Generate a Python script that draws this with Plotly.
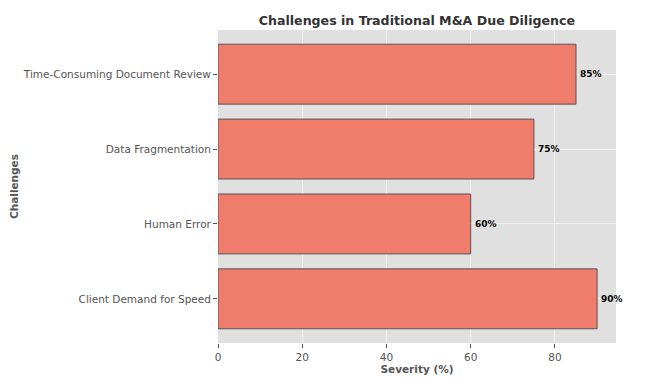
import plotly.graph_objects as go

categories = ["Client Demand for Speed", "Human Error", "Data Fragmentation", "Time-Consuming Document Review"]
severity = [90, 60, 75, 85]
x_ticks = [0, 20, 40, 60, 80]

fig = go.Figure()
fig.add_trace(go.Bar(
    y=categories, x=severity, orientation="h", width=0.8,
    marker=dict(color="#F07C6C", line=dict(color="#555555", width=1)),
    hoverinfo="x+y",
))
for c, v in zip(categories, severity):
    fig.add_annotation(x=v, y=c, text=f"<b>{v}%</b>", showarrow=False,
                       xanchor="left", xshift=2, font=dict(size=9, color="black", family="DejaVu Sans"))

fig.update_layout(
    width=647, height=392,
    margin=dict(l=210, r=39, t=22, b=57),
    paper_bgcolor="white", plot_bgcolor="#E0E0E0",
    font=dict(family="DejaVu Sans", color="#555555", size=10.5),
    title=dict(text="<b>Challenges in Traditional M&A Due Diligence</b>", x=0.632, xanchor="center",
               y=0.969, yanchor="middle", font=dict(size=12.6, color="#333333")),
    showlegend=False,
    bargap=0.2,
)
fig.update_xaxes(range=[0, 94.5], tickvals=x_ticks, showgrid=True, gridcolor="#F2F2F2", gridwidth=0.8,
                 ticks="outside", ticklen=4, tickcolor="#555555", zeroline=False, automargin=False,
                 title=dict(text="<b>Severity (%)</b>", font=dict(size=10.5, color="#555555"), standoff=2),
                 tickfont=dict(size=10.5, color="#555555"))
fig.update_yaxes(range=[-0.59, 3.59], showgrid=True, gridcolor="#F2F2F2", gridwidth=0.8,
                 ticks="outside", ticklen=4, tickcolor="#555555", automargin=False,
                 title=dict(text="<b>Challenges</b>", font=dict(size=10.5, color="#555555"), standoff=4),
                 tickfont=dict(size=10.5, color="#555555"))
fig.write_html("out.html")
